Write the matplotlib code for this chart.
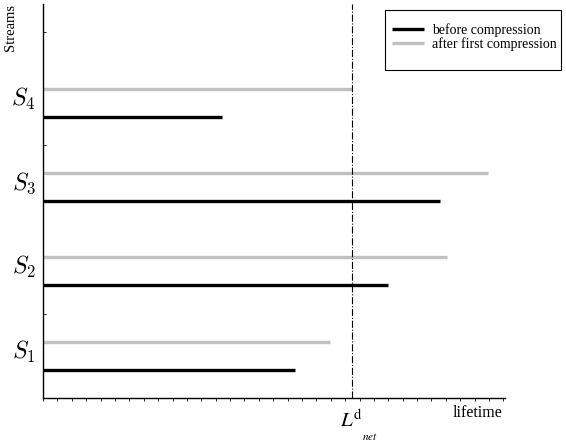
import numpy as np
import matplotlib.pyplot as plt
from matplotlib.patches import Rectangle

# lifetime of each stream, before and after the first compression
streams = ['$S_1$', '$S_2$', '$S_3$', '$S_4$']
before = [17.5, 24.0, 27.6, 12.43]
after = [19.94, 28.1, 30.9, 21.45]
L_net = 21.45

plt.rcParams['font.family'] = ['Liberation Serif', 'DejaVu Serif']

fig = plt.figure(figsize=(5.66, 4.43), dpi=100)
ax = fig.add_axes([0.076, 0.1016, 0.816, 0.889])

ybase = np.arange(len(streams)) * 1.5 + 0.5
for i in range(len(streams)):
	ax.plot([0, before[i]], [ybase[i], ybase[i]], color='black', lw=2.4,
		solid_capstyle='butt', label='before compression' if i == 0 else None)
	ax.plot([0, after[i]], [ybase[i] + 0.5, ybase[i] + 0.5], color='#c0c0c0', lw=2.4,
		solid_capstyle='butt', label='after first compression' if i == 0 else None)
	ax.text(-0.5, ybase[i] + 0.32, streams[i], fontsize=17, ha='right', va='center',
		math_fontfamily='cm')

ax.axvline(L_net, color='black', lw=0.8, ls='-.')

ax.set_xlim(0, 32.1)
ax.set_ylim(0, 7)
ax.set_xticks(np.arange(0, 33))
ax.set_yticks(np.arange(0.5, 7, 1.0))
ax.set_xticklabels([])
ax.set_yticklabels([])
ax.tick_params(axis='x', direction='out', length=1.8, width=0.6)
ax.tick_params(axis='y', direction='in', length=2, width=0.6)
for s in ['top', 'right']:
	ax.spines[s].set_visible(False)
for s in ['left', 'bottom']:
	ax.spines[s].set_linewidth(1.0)

fig.text(0.018, 0.99, 'Streams', rotation=90, fontsize=10.5, ha='center', va='top')
fig.text(0.887, 0.068, 'lifetime', fontsize=11.5, ha='right', va='center')
ax.text(L_net, -0.4, r'$L^{\mathrm{d}}$', fontsize=15, ha='center', va='center',
	math_fontfamily='stix')
ax.text(L_net + 0.75, -0.68, r'$net$', fontsize=8, ha='left', va='center',
	math_fontfamily='stix')

# legend box sits in the top right corner, outside the axes
fig.legend(loc='center left', bbox_to_anchor=(0.693, 0.9165), fontsize=10,
	frameon=False, handlelength=2.3, borderpad=0, borderaxespad=0,
	labelspacing=0.05, handletextpad=0.55)
fig.patches.append(Rectangle((0.680, 0.842), 0.311, 0.135, transform=fig.transFigure,
	fill=False, edgecolor='black', lw=0.8))

fig.savefig('out.png', dpi=100)
